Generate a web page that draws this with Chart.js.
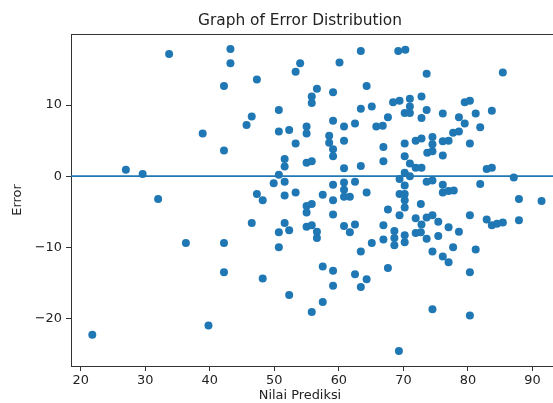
<!DOCTYPE html>
<html>
<head>
<meta charset="utf-8">
<script src="https://cdn.jsdelivr.net/npm/chart.js@4.4.0/dist/chart.umd.min.js"></script>
<style>
html, body { margin: 0; padding: 0; background: #fff; overflow: hidden; }
#wrap { width: 575px; height: 403px; }
</style>
</head>
<body>
<div id="wrap"><canvas id="grafik" width="575" height="403"></canvas></div>
<script>
// nilai prediksi (sumbu x) dan error (sumbu y)
var prediksi = [
    21.8, 27.0, 29.6, 32.0, 33.7, 36.3, 38.9, 39.8,
    42.2, 42.2, 42.2, 42.2, 43.2, 43.2,
    45.7, 46.5, 46.5, 47.3, 47.3, 48.2, 48.2,
    49.9, 50.7, 50.7, 50.7, 50.7, 50.7,
    51.6, 51.6, 51.6, 51.6, 51.6,
    52.3, 52.3, 52.3,
    53.3, 53.3, 53.3, 54.0,
    55.0, 55.0, 55.0, 55.0, 55.0, 55.0,
    55.8, 55.8, 55.8, 55.8, 55.8, 55.8,
    56.6, 56.6, 56.6,
    57.5, 57.5, 57.5,
    58.5, 58.5,
    59.1, 59.1, 59.1, 59.1, 59.1, 59.1, 59.1, 59.1, 59.1,
    60.1,
    60.8, 60.8, 60.8, 60.8, 60.8, 60.8, 60.8,
    61.7, 61.7,
    62.5, 62.5, 62.5, 62.5,
    63.4, 63.4, 63.4, 63.4, 63.4,
    64.3, 64.3, 64.3,
    65.1, 65.1, 65.8,
    66.8, 66.9, 66.9, 66.9, 66.9,
    67.6, 67.6, 67.6,
    68.4, 68.6, 68.6, 68.6,
    69.2, 69.3, 69.4, 69.4, 69.4, 69.4,
    70.2, 70.2, 70.2, 70.2, 70.2, 70.2, 70.2, 70.2, 70.2, 70.2,
    70.3,
    71.0, 71.0, 71.0, 71.0, 71.0,
    71.9, 71.9, 71.9, 71.9,
    72.7, 72.7, 72.8, 72.8, 72.8, 72.8, 72.8,
    73.6, 73.6, 73.7, 73.6, 73.6, 73.6,
    74.5, 74.5, 74.5, 74.5, 74.5, 74.5, 74.5,
    75.4, 75.4,
    76.1, 76.1, 76.1, 76.1, 76.1, 76.1,
    77.0, 77.0, 77.0, 77.0,
    77.7, 77.8, 77.7,
    78.6, 78.6, 78.6,
    79.5, 79.5,
    80.3, 80.3, 80.3, 80.3, 80.3,
    81.2, 81.2,
    81.9, 81.9,
    82.9, 82.9,
    83.7, 83.7, 83.7,
    84.5,
    85.4, 85.4,
    87.1,
    87.9, 87.9,
    91.4
];
var error = [
    -22.3, 0.9, 0.3, -3.2, 17.2, -9.4, 6.0, -21.0,
    12.7, 3.6, -9.4, -13.5, 17.9, 15.9,
    7.2, 8.4, -6.6, 13.6, -2.5, -3.4, -14.4,
    -1.0, 9.3, 6.3, 0.2, -7.9, -10.0,
    2.4, 1.35, -0.8, -2.7, -6.6,
    6.5, -7.6, -16.7,
    14.7, 4.6, -2.3, 15.9,
    7.0, 6.0, 1.9, -4.2, -5.1, -7.1,
    11.2, 10.3, 2.1, -3.9, -6.9, -19.1,
    12.3, -7.8, -8.7,
    -2.6, -12.7, -17.7,
    5.7, 4.7,
    11.8, 7.8, 3.8, 2.8, -1.2, -3.4, -5.4, -13.3, -15.4,
    16.0,
    7.0, 5.0, 1.1, -0.9, -1.9, -2.9, -7.0,
    -2.9, -7.9,
    7.4, -0.8, -6.8, -13.8,
    17.6, 9.5, 1.45, -10.6, -15.6,
    12.7, -2.3, -14.5,
    9.8, -9.4, 7.0,
    7.1, 4.1, 2.1, -6.9, -8.9,
    8.3, -4.7, -12.9,
    10.4, -7.7, -8.7, -9.7,
    17.6, -24.6, 10.6, -0.4, -2.5, -5.5,
    8.9, 4.6, 2.8, 0.5, -1.3, -2.5, -3.4, -4.4, -8.3, -9.3,
    17.8,
    10.9, 9.8, 8.9, 1.8, 0.0,
    5.0, 1.2, -5.9, -8.0,
    -3.9, -7.9, 11.2, 8.2, 5.3, 1.2, -6.8,
    14.4, 9.3, 3.3, -0.8, -5.8, -8.8,
    5.5, 4.5, 3.5, -0.6, -5.5, -10.6, -18.7,
    -6.4, -8.4,
    8.8, 4.9, 2.9, -1.2, -2.3, -11.3,
    5.0, -2.1, -7.2, -12.1,
    6.1, -2.0, -10.0,
    8.3, 6.3, -7.8,
    10.4, 7.4,
    10.6, 4.6, -5.5, -13.5, -19.6,
    8.8, -10.3,
    6.9, -1.1,
    1.0, -6.1,
    9.2, 1.2, -6.9,
    -6.7,
    14.6, -6.5,
    -0.2,
    -3.2, -6.2,
    -3.5
];
var xTicks = [20, 30, 40, 50, 60, 70, 80, 90];
var yTicks = [-20, -10, 0, 10];
var xMin = 18.5, xMax = 95.5;
var yMin = -26.7, yMax = 20.0;
var garisNol = 0;

var judul = 'Graph of Error Distribution';
var labelX = 'Nilai Prediksi';
var labelY = 'Error';

var biru = '#1f77b4';
var fontDasar = '"DejaVu Sans", "Liberation Sans", sans-serif';

var titik = prediksi.map(function (v, i) {
    return { x: v, y: error[i] };
});

// judul, label x dan bingkai atas/kanan seperti matplotlib
var teksPlugin = {
    id: 'teks',
    beforeDraw: function (chart) {
        var ctx = chart.ctx;
        ctx.save();
        ctx.fillStyle = '#fff';
        ctx.fillRect(0, 0, chart.width, chart.height);
        ctx.restore();
    },
    afterDraw: function (chart) {
        var ctx = chart.ctx, a = chart.chartArea;
        ctx.save();
        ctx.strokeStyle = '#333';
        ctx.lineWidth = 1;
        ctx.beginPath();
        ctx.moveTo(a.left, a.top + 0.5);
        ctx.lineTo(a.right, a.top + 0.5);
        ctx.moveTo(a.right - 0.5, a.top);
        ctx.lineTo(a.right - 0.5, a.bottom);
        ctx.stroke();
        ctx.fillStyle = '#222';
        ctx.textAlign = 'center';
        ctx.textBaseline = 'middle';
        ctx.font = '15.4px ' + fontDasar;
        ctx.fillText(judul, 300, 21);
        ctx.font = '12.9px ' + fontDasar;
        ctx.fillText(labelX, 300, 396);
        ctx.restore();
    }
};

var ctx = document.getElementById('grafik').getContext('2d');
var myChart = new Chart(ctx, {
    type: 'scatter',
    data: {
        datasets: [
            {
                label: 'Error',
                data: titik,
                backgroundColor: biru,
                borderColor: biru,
                borderWidth: 0,
                pointRadius: 4,
                pointHoverRadius: 4
            },
            {
                type: 'line',
                label: 'Nol',
                data: [{ x: xMin, y: garisNol }, { x: xMax, y: garisNol }],
                borderColor: biru,
                borderWidth: 1.8,
                pointRadius: 0,
                fill: false
            }
        ]
    },
    options: {
        responsive: false,
        animation: false,
        devicePixelRatio: 1,
        layout: { padding: { top: 34, right: 7, left: 0, bottom: 0 } },
        plugins: {
            legend: { display: false },
            tooltip: { enabled: false },
            title: { display: false }
        },
        scales: {
            x: {
                type: 'linear',
                min: xMin,
                max: xMax,
                afterBuildTicks: function (scale) {
                    scale.ticks = xTicks.map(function (v) { return { value: v }; });
                },
                afterFit: function (scale) { scale.height = 37; },
                grid: { display: true, drawOnChartArea: false, drawTicks: true, tickLength: 5, color: '#333' },
                border: { display: true, color: '#333', width: 1 },
                ticks: {
                    color: '#222',
                    padding: 2,
                    maxRotation: 0,
                    font: { family: fontDasar, size: 12.9 }
                },
                title: { display: false }
            },
            y: {
                type: 'linear',
                min: yMin,
                max: yMax,
                afterBuildTicks: function (scale) {
                    scale.ticks = yTicks.map(function (v) { return { value: v }; });
                },
                afterFit: function (scale) { scale.width = 71; },
                grid: { display: true, drawOnChartArea: false, drawTicks: true, tickLength: 5, color: '#333' },
                border: { display: true, color: '#333', width: 1 },
                ticks: {
                    color: '#222',
                    padding: 4,
                    font: { family: fontDasar, size: 12.9 },
                    callback: function (v) { return String(v).replace('-', '\u2212'); }
                },
                title: {
                    display: true,
                    text: labelY,
                    color: '#222',
                    padding: { top: 10, bottom: 0 },
                    font: { family: fontDasar, size: 12.9 }
                }
            }
        }
    },
    plugins: [teksPlugin]
});
</script>
</body>
</html>
